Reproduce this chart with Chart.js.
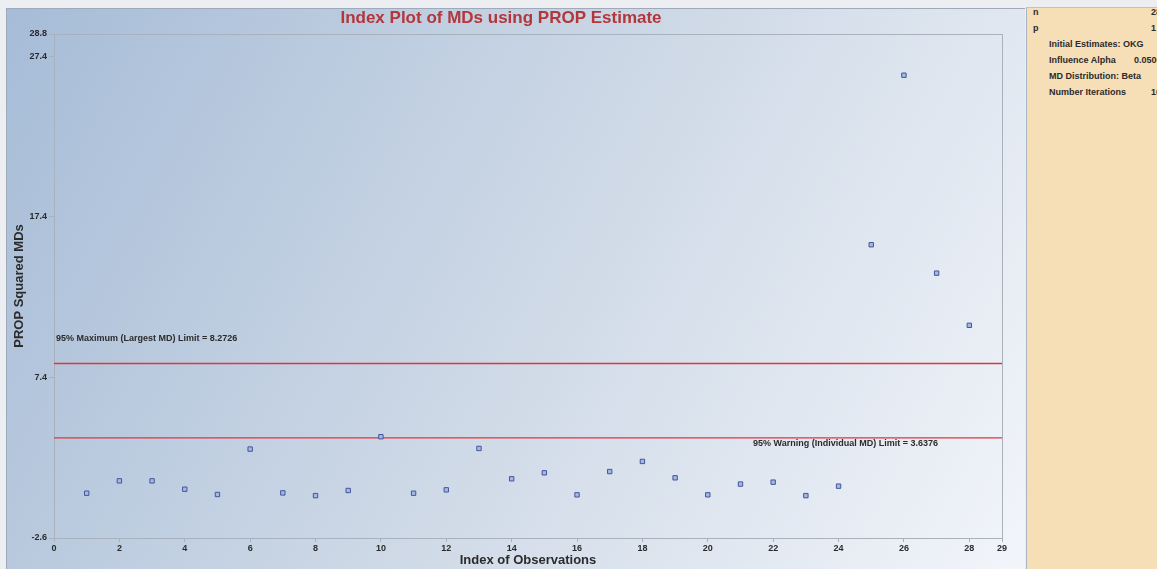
<!DOCTYPE html>
<html>
<head>
<meta charset="utf-8">
<script src="https://cdn.jsdelivr.net/npm/chart.js@4/dist/chart.umd.min.js"></script>
<style>
  html, body { margin: 0; padding: 0; background: #eceef2; }
  #wrap { position: relative; width: 1157px; height: 569px; overflow: hidden; }
  #plot { position: absolute; left: 0; top: 0; width: 1025px; height: 569px; }
  #info {
    position: absolute; left: 1026px; top: 7px; width: 140px; height: 562px;
    background: #f6deb6; border-left: 1px solid #a9b4c2; border-top: 1px solid #c9c2b4;
    font: bold 9px "Liberation Sans", Arial, sans-serif; color: #2b2b2b;
  }
  #info div { position: absolute; white-space: nowrap; }
</style>
</head>
<body>
<div id="wrap">
  <div id="plot"><canvas id="chart" width="1025" height="569"></canvas></div>
  <div id="info"></div>
</div>
<script>
// --- data ---
const obsIndex = [1, 2, 3, 4, 5, 6, 7, 8, 9, 10, 11, 12, 13, 14,
                  15, 16, 17, 18, 19, 20, 21, 22, 23, 24, 25, 26, 27, 28];
const mdValues = [0.19, 0.96, 0.96, 0.44, 0.11, 2.94, 0.21, 0.04, 0.36, 3.71,
                  0.19, 0.40, 2.98, 1.09, 1.46, 0.09, 1.54, 2.17, 1.15, 0.09,
                  0.76, 0.88, 0.04, 0.63, 15.67, 26.23, 13.90, 10.65];
const xTicks = [0, 2, 4, 6, 8, 10, 12, 14, 16, 18, 20, 22, 24, 26, 28, 29];
const yTicks = [-2.6, 7.4, 17.4, 27.4, 28.8];
const maxLimit = 8.2726;
const warnLimit = 3.6376;
const maxLabel = '95% Maximum (Largest MD) Limit = 8.2726';
const warnLabel = '95% Warning (Individual MD) Limit = 3.6376';

// side panel text
const infoRows = [
  { label: 'n', value: '28', indent: false },
  { label: 'p', value: '1', indent: false },
  { label: 'Initial Estimates: OKG', value: '', indent: true },
  { label: 'Influence Alpha', value: '0.0500', indent: true },
  { label: 'MD Distribution: Beta', value: '', indent: true },
  { label: 'Number Iterations', value: '10', indent: true }
];

const FONT = '"Liberation Sans", Arial, sans-serif';
const INK = '#2b2b2b';

const info = document.getElementById('info');
infoRows.forEach((r, i) => {
  const top = -1 + i * 16;
  const l = document.createElement('div');
  l.textContent = r.label;
  l.style.left = (r.indent ? 22 : 6) + 'px';
  l.style.top = top + 'px';
  info.appendChild(l);
  if (r.value) {
    const v = document.createElement('div');
    v.textContent = r.value;
    v.style.left = (r.value === '0.0500' ? 107 : 124) + 'px';
    v.style.top = top + 'px';
    info.appendChild(v);
  }
});

// background, plot frame and limit labels
const decor = {
  id: 'decor',
  beforeDraw(chart) {
    const ctx = chart.ctx;
    ctx.save();
    ctx.fillStyle = '#eceef2';
    ctx.fillRect(0, 0, chart.width, chart.height);
    const g = ctx.createLinearGradient(6, 8, chart.width, chart.height);
    g.addColorStop(0, '#a6bcd7');
    g.addColorStop(0.5, '#cdd8e6');
    g.addColorStop(1, '#f2f5fa');
    ctx.fillStyle = g;
    ctx.fillRect(6, 8, chart.width - 6, chart.height - 8);
    ctx.strokeStyle = '#9eaaba';
    ctx.lineWidth = 1;
    ctx.strokeRect(6.5, 8.5, chart.width - 6, chart.height - 8);
    ctx.restore();
  },
  beforeDatasetsDraw(chart) {
    const { ctx, chartArea: a } = chart;
    ctx.save();
    ctx.strokeStyle = '#a9b1bc';
    ctx.lineWidth = 1;
    ctx.strokeRect(a.left + 0.5, a.top + 0.5, a.right - a.left, a.bottom - a.top);
    ctx.restore();
  },
  afterDatasetsDraw(chart) {
    const { ctx, chartArea: a, scales } = chart;
    const yMax = scales.y.getPixelForValue(maxLimit);
    const yWarn = scales.y.getPixelForValue(warnLimit);
    ctx.save();
    ctx.font = 'bold 9px ' + FONT;
    ctx.fillStyle = INK;
    ctx.textBaseline = 'middle';
    ctx.fillText(maxLabel, a.left + 2, yMax - 25);
    ctx.fillText(warnLabel, a.right - 249, yWarn + 6);
    ctx.restore();
  }
};

new Chart(document.getElementById('chart'), {
  type: 'scatter',
  data: {
    datasets: [
      {
        data: obsIndex.map((x, i) => ({ x, y: mdValues[i] })),
        pointStyle: 'rect',
        pointRadius: 3.1,
        backgroundColor: '#a5b8e2',
        borderColor: '#42559c',
        borderWidth: 1
      },
      {
        type: 'line',
        data: [{ x: 0, y: maxLimit }, { x: 29, y: maxLimit }],
        borderColor: '#e2343c',
        borderWidth: 1.4,
        pointRadius: 0
      },
      {
        type: 'line',
        data: [{ x: 0, y: warnLimit }, { x: 29, y: warnLimit }],
        borderColor: '#e2343c',
        borderWidth: 1.4,
        pointRadius: 0
      }
    ]
  },
  options: {
    responsive: false,
    animation: false,
    layout: { padding: { left: 0, right: 23, top: 0, bottom: 0 } },
    plugins: {
      legend: { display: false },
      tooltip: { enabled: false },
      title: {
        display: true,
        text: 'Index Plot of MDs using PROP Estimate',
        color: '#b2363a',
        font: { family: FONT, size: 17, weight: 'bold' },
        padding: { top: 8, bottom: 5.6 }
      }
    },
    scales: {
      x: {
        type: 'linear',
        min: 0,
        max: 29,
        afterBuildTicks: s => { s.ticks = xTicks.map(v => ({ value: v })); },
        afterFit: s => { s.height = 31; },
        grid: { drawOnChartArea: false, drawTicks: true, tickLength: 4, color: '#a9b1bc' },
        border: { display: false },
        ticks: {
          padding: 1,
          color: INK,
          font: { family: FONT, size: 9, weight: 'bold' },
          callback: v => String(v),
          maxRotation: 0,
          autoSkip: false
        },
        title: {
          display: true,
          text: 'Index of Observations',
          color: INK,
          font: { family: FONT, size: 13, weight: 'bold' },
          padding: { top: 0, bottom: 1 }
        }
      },
      y: {
        min: -2.6,
        max: 28.8,
        afterBuildTicks: s => { s.ticks = yTicks.map(v => ({ value: v })); },
        afterFit: s => { s.width = 54; },
        grid: { drawOnChartArea: false, drawTicks: true, tickLength: 5, color: '#a9b1bc' },
        border: { display: false },
        ticks: {
          padding: 2,
          color: INK,
          font: { family: FONT, size: 9, weight: 'bold' },
          callback: v => v.toFixed(1),
          autoSkip: false
        },
        title: {
          display: true,
          text: 'PROP Squared MDs',
          color: INK,
          font: { family: FONT, size: 13, weight: 'bold' },
          padding: { top: 12, bottom: 0 }
        }
      }
    }
  },
  plugins: [decor]
});
</script>
</body>
</html>
